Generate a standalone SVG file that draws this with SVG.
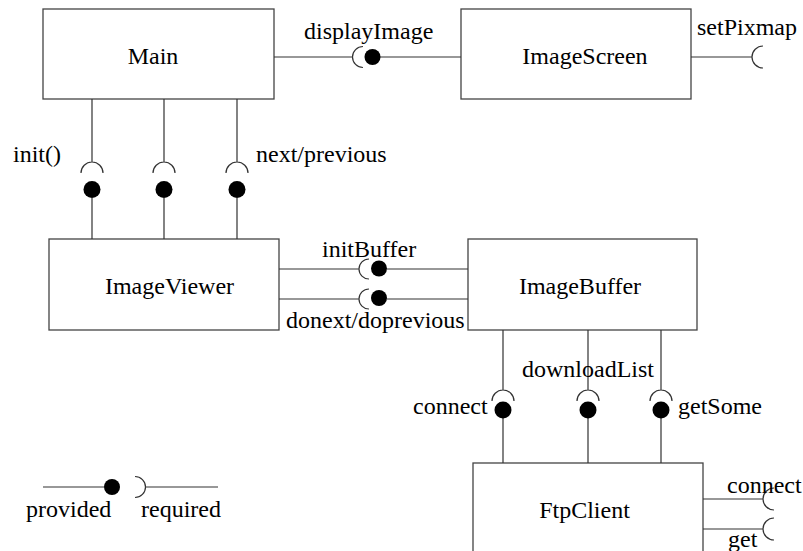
<svg xmlns="http://www.w3.org/2000/svg" width="803" height="551" viewBox="0 0 803 551">
<style>
.box{fill:#fff;stroke:#444;stroke-width:1.3}
.ln{fill:none;stroke:#333;stroke-width:1.2}
.ball{fill:#000}
.t{font-size:24px;fill:#000}
.c{text-anchor:middle}
</style>
<rect width="803" height="551" fill="#fff"/>
<g id="Main">
<rect class="box" x="43" y="9" width="231" height="90"/>
<text class="t c" x="153" y="64" style="font-family:'Liberation Serif'">Main</text>
</g>
<g id="ImageScreen">
<rect class="box" x="461" y="9" width="230" height="90"/>
<text class="t c" x="585" y="64" style="font-family:'Liberation Serif'">ImageScreen</text>
</g>
<g id="ImageViewer">
<rect class="box" x="49" y="239" width="230" height="91"/>
<text class="t c" x="169.5" y="294" style="font-family:'Liberation Serif'">ImageViewer</text>
</g>
<g id="ImageBuffer">
<rect class="box" x="468" y="239" width="229" height="91"/>
<text class="t c" x="580" y="294" style="font-family:'Liberation Serif'">ImageBuffer</text>
</g>
<g id="FtpClient">
<rect class="box" x="473" y="463" width="230" height="100"/>
<text class="t c" x="584.5" y="518" style="font-family:'Liberation Serif'">FtpClient</text>
</g>
<g id="connectors">
<path class="ln" d="M274,57H352.5M363,46.5A10.5,10.5 0 0 0 363,67.5M380,57H461"/>
<circle class="ball" cx="372.5" cy="57" r="8"/>
<text class="t" x="304" y="39" style="font-family:'Liberation Serif'">displayImage</text>
<path class="ln" d="M691,57H752M763,46A11,11 0 0 0 763,68"/>
<text class="t" x="697" y="35" style="font-family:'Liberation Serif'">setPixmap</text>
<path class="ln" d="M92,99V162M81,173A11,11 0 0 1 103,173M92,198V239"/>
<circle class="ball" cx="92" cy="189.5" r="8.5"/>
<path class="ln" d="M164,99V162M153,173A11,11 0 0 1 175,173M164,198V239"/>
<circle class="ball" cx="164" cy="189.5" r="8.5"/>
<path class="ln" d="M237,99V162M226,173A11,11 0 0 1 248,173M237,198V239"/>
<circle class="ball" cx="237" cy="189.5" r="8.5"/>
<text class="t" x="13" y="162" style="font-family:'Liberation Serif'">init()</text>
<text class="t" x="256" y="162" style="font-family:'Liberation Serif'">next/previous</text>
<path class="ln" d="M279,269H359M369,259A10,10 0 0 0 369,279M387,269H468"/>
<circle class="ball" cx="379" cy="268.5" r="8"/>
<text class="t" x="322" y="257" style="font-family:'Liberation Serif'">initBuffer</text>
<path class="ln" d="M279,299H359M369,289A10,10 0 0 0 369,309M387,299H468"/>
<circle class="ball" cx="379" cy="298" r="8"/>
<text class="t" x="286" y="328" style="font-family:'Liberation Serif'">donext/doprevious</text>
<path class="ln" d="M503,330V390M492,401A11,11 0 0 1 514,401M503,418V463"/>
<circle class="ball" cx="503" cy="410" r="8.5"/>
<path class="ln" d="M588,330V390M577,401A11,11 0 0 1 599,401M588,418V463"/>
<circle class="ball" cx="588" cy="410" r="8.5"/>
<path class="ln" d="M661,330V390M650,401A11,11 0 0 1 672,401M661,418V463"/>
<circle class="ball" cx="661" cy="410" r="8.5"/>
<text class="t" x="522" y="377" style="font-family:'Liberation Serif'">downloadList</text>
<text class="t" x="413" y="414" style="font-family:'Liberation Serif'">connect</text>
<text class="t" x="678" y="414" style="font-family:'Liberation Serif'">getSome</text>
<path class="ln" d="M703,499H763M774,488A11,11 0 0 0 774,510"/>
<text class="t" x="727" y="493" style="font-family:'Liberation Serif'">connect</text>
<path class="ln" d="M703,529H763M774,518A11,11 0 0 0 774,540"/>
<text class="t" x="728" y="547" style="font-family:'Liberation Serif'">get</text>
</g>
<g id="legend">
<path class="ln" d="M43,487H104M135,476.5A10.5,10.5 0 0 1 135,497.5M145.5,487H218"/>
<circle class="ball" cx="112" cy="487" r="8"/>
<text class="t" x="26" y="517" style="font-family:'Liberation Serif'">provided</text>
<text class="t" x="141" y="517" style="font-family:'Liberation Serif'">required</text>
</g>
</svg>
